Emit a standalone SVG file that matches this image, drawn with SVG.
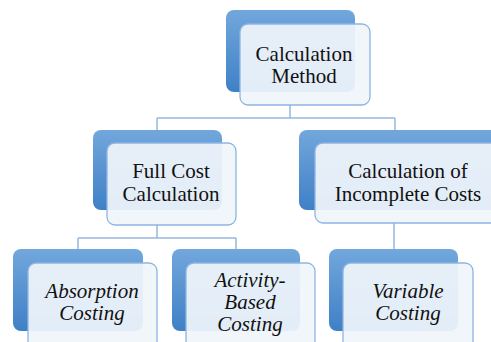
<svg xmlns="http://www.w3.org/2000/svg" width="491" height="342" viewBox="0 0 491 342">
<defs>
<linearGradient id="bg" x1="0" y1="0" x2="0" y2="1">
<stop offset="0" stop-color="#72a7dc"/>
<stop offset="1" stop-color="#3f80c6"/>
</linearGradient>
<style>
.back{fill:url(#bg);}
.front{fill:#f0f5fb;fill-opacity:0.93;stroke:#8db5e2;stroke-width:1.3;}
.c{fill:none;stroke:#95b8e0;stroke-width:1.5;}
text{font-family:'Liberation Serif','Times New Roman',serif;font-size:21px;fill:#111;text-anchor:middle;}
.i text{font-style:italic;}
</style>
</defs>
<rect width="491" height="342" fill="#ffffff"/>
<g id="connectors">
<path class="c" d="M290 105 V118 M157 118 H395 M157 118 V143 M395 118 V143"/>
<path class="c" d="M157 225 V238 M78 238 H236 M78 238 V249 M236 238 V249"/>
<path class="c" d="M394 223 V249"/>
</g>
<g id="n-method">
<rect class="back" x="226" y="10" width="129" height="82" rx="8"/>
<rect class="front" x="240" y="24" width="130" height="81" rx="8"/>
<text x="304" y="61">Calculation</text>
<text x="304" y="83">Method</text>
</g>
<g id="n-full">
<rect class="back" x="93" y="130" width="129" height="80" rx="8"/>
<rect class="front" x="107" y="143" width="129" height="82" rx="8"/>
<text x="171" y="178">Full Cost</text>
<text x="171" y="201">Calculation</text>
</g>
<g id="n-incomplete">
<rect class="back" x="299" y="130" width="200" height="80" rx="8"/>
<rect class="front" x="315" y="143" width="200" height="80" rx="8"/>
<text x="408" y="178">Calculation of</text>
<text x="408" y="201">Incomplete Costs</text>
</g>
<g id="n-absorption" class="i">
<rect class="back" x="13" y="249" width="130" height="82" rx="8"/>
<rect class="front" x="28" y="263" width="129" height="90" rx="8"/>
<text x="92" y="298">Absorption</text>
<text x="92" y="320">Costing</text>
</g>
<g id="n-activity" class="i">
<rect class="back" x="172" y="249" width="128" height="82" rx="8"/>
<rect class="front" x="186" y="263" width="129" height="90" rx="8"/>
<text x="250" y="287">Activity-</text>
<text x="250" y="309">Based</text>
<text x="250" y="331">Costing</text>
</g>
<g id="n-variable" class="i">
<rect class="back" x="329" y="249" width="129" height="82" rx="8"/>
<rect class="front" x="343" y="263" width="130" height="90" rx="8"/>
<text x="408" y="298">Variable</text>
<text x="408" y="320">Costing</text>
</g>
</svg>
